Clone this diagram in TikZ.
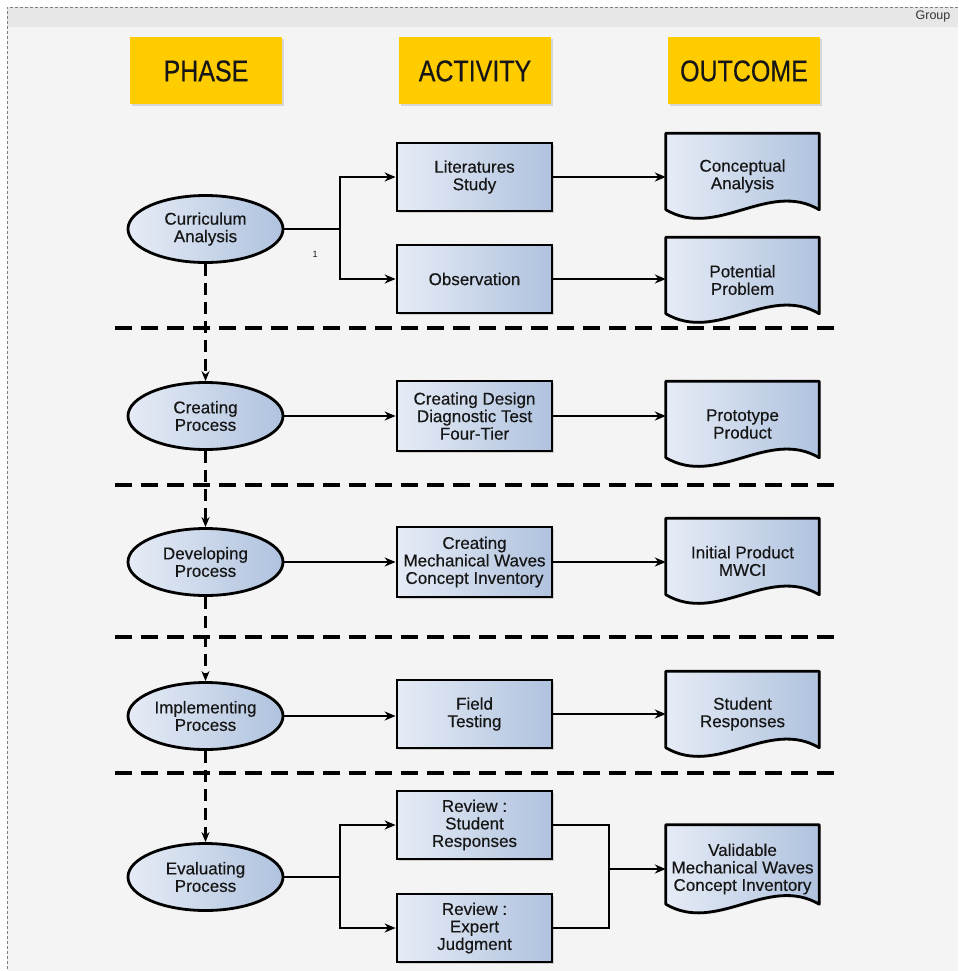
\documentclass[tikz,border=0pt]{standalone}
\usepackage{fontspec}
\setmainfont{Liberation Sans}
\newfontfamily\heavy{Liberation Sans}[FakeBold=0.4]
\usetikzlibrary{arrows.meta,shapes.geometric,shadows,backgrounds}
\definecolor{headyel}{HTML}{FFCC00}
\definecolor{boxlight}{HTML}{E6ECF6}
\definecolor{boxdark}{HTML}{AFC2DE}
\definecolor{pagebg}{HTML}{F4F4F4}
\definecolor{bandbg}{HTML}{E7E7E7}
\definecolor{inkcol}{HTML}{161616}
% wavy outcome sheet drawn round node #1
\newcommand\outdoc[1]{%
  \draw[sheet] (#1.north west) -- (#1.north east) -- ([yshift=9pt]#1.south east)
    .. controls ([xshift=-51pt,yshift=39pt]#1.south east) and ([xshift=51pt,yshift=-21pt]#1.south west) .. ([yshift=9pt]#1.south west) -- cycle;}
\begin{document}
\begin{tikzpicture}[x=1pt,y=-1pt,every node/.style={text=inkcol,font=\heavy\fontsize{17}{17.5}\selectfont},
  head/.style={fill=headyel,minimum width=152pt,minimum height=67pt,font=\heavy\fontsize{25}{27}\selectfont,
    drop shadow={shadow xshift=1.5pt,shadow yshift=-2pt,opacity=.25}},
  phase/.style={ellipse,draw=black,line width=2.8pt,left color=boxlight,right color=boxdark,
    minimum width=155pt,minimum height=67pt,inner sep=0pt,align=center},
  act/.style={draw=black,line width=2.8pt,left color=boxlight,right color=boxdark,minimum width=155pt,
    minimum height=68pt,inner sep=2pt,align=center,drop shadow={shadow xshift=1.5pt,shadow yshift=-1.5pt,opacity=.3}},
  outc/.style={minimum width=153pt,minimum height=85pt,inner sep=0pt,align=center},
  sheet/.style={line width=2.8pt,line join=round,left color=boxlight,right color=boxdark,
    drop shadow={shadow xshift=1.5pt,shadow yshift=-1.5pt,opacity=.3}},
  conn/.style={line width=2pt},
  link/.style={conn,-{Stealth[length=11pt,width=9pt]}},
  sep/.style={line width=3.2pt,dash pattern=on 17pt off 9pt},
  flow/.style={line width=2.4pt,dash pattern=on 12pt off 7pt,-{Stealth[length=10pt,width=8pt]}}]
\useasboundingbox (0,0) rectangle (958,971);
\begin{scope}[on background layer]
\fill[white] (0,0) rectangle (958,971);
\fill[pagebg] (7,7) rectangle (958,971);
\fill[bandbg] (7,7) rectangle (958,27);
\draw[gray,line width=.8pt,dash pattern=on 3pt off 2pt] (958,7) -- (7,7) -- (7,971);
\end{scope}
\node[font=\fontsize{12.5}{12.5}\selectfont,text=black!80] (grp) at (933,16) {Group};

% column heads
\node[head] (hphase) at (206,71) {\scalebox{1}[1.2]{PHASE}};
\node[head] (hact) at (475,71) {\scalebox{1}[1.2]{ACTIVITY}};
\node[head] (hout) at (744,71) {\scalebox{1}[1.2]{OUTCOME}};

% phase separators
\foreach \y in {328,485,637,773} \draw[sep] (115,\y) -- (840,\y);

% phases
\node[phase] (curr) at (205.5,229) {Curriculum\\Analysis};
\node[phase] (create) at (205.5,416) {Creating\\Process};
\node[phase] (develop) at (205.5,562) {Developing\\Process};
\node[phase] (implement) at (205.5,716) {Implementing\\Process};
\node[phase] (evaluate) at (205.5,877) {Evaluating\\Process};
\foreach \a/\b in {curr/create,create/develop,develop/implement,implement/evaluate}
  \draw[flow] (\a.south) -- (\b.north);

% activities
\node[act] (lit) at (474.5,177) {Literatures\\Study};
\node[act] (obs) at (474.5,279) {Observation};
\node[act,minimum height=70pt] (design) at (474.5,416) {Creating Design\\Diagnostic Test\\Four-Tier};
\node[act,minimum height=70pt] (mwci) at (474.5,562) {Creating\\Mechanical Waves\\Concept Inventory};
\node[act] (field) at (474.5,714) {Field\\Testing};
\node[act] (revstu) at (474.5,825) {Review :\\Student\\Responses};
\node[act] (revexp) at (474.5,928) {Review :\\Expert\\Judgment};

% outcomes
\node[outc] (concept) at (742.5,176) {Conceptual\\Analysis};
\node[outc] (potent) at (742.5,280) {Potential\\Problem};
\node[outc] (proto) at (742.5,424) {Prototype\\Product};
\node[outc] (initial) at (742.5,561) {Initial Product\\MWCI};
\node[outc] (stuout) at (742.5,714) {Student\\Responses};
\node[outc,minimum height=88pt] (valid) at (742.5,869) {Validable\\Mechanical Waves\\Concept Inventory};
\begin{scope}[on background layer]
\foreach \n in {concept,potent,proto,initial,stuout,valid} \outdoc{\n};
\end{scope}

% connectors
\coordinate (fork) at (340,229);
\draw[link] (curr.east) -- (fork) |- (lit.west);
\draw[link] (fork) |- (obs.west);
\node[font=\fontsize{9}{9}\selectfont] (one) at (315,254) {1};
\draw[link] (lit.east) -- (lit -| concept.west);
\draw[link] (obs.east) -- (obs -| potent.west);
\draw[link] (create.east) -- (create -| design.west);
\draw[link] (design.east) -- (design -| proto.west);
\draw[link] (develop.east) -- (develop -| mwci.west);
\draw[link] (mwci.east) -- (mwci -| initial.west);
\draw[link] (implement.east) -- (implement -| field.west);
\draw[link] (field.east) -- (field -| stuout.west);
\coordinate (split) at (340,877);
\draw[link] (evaluate.east) -- (split) |- (revstu.west);
\draw[link] (split) |- (revexp.west);
\coordinate (merge) at (609,869);
\draw[conn] (revstu.east) -| (merge);
\draw[conn] (revexp.east) -| (merge);
\draw[link] (merge) -- (valid.west);
\end{tikzpicture}
\end{document}
